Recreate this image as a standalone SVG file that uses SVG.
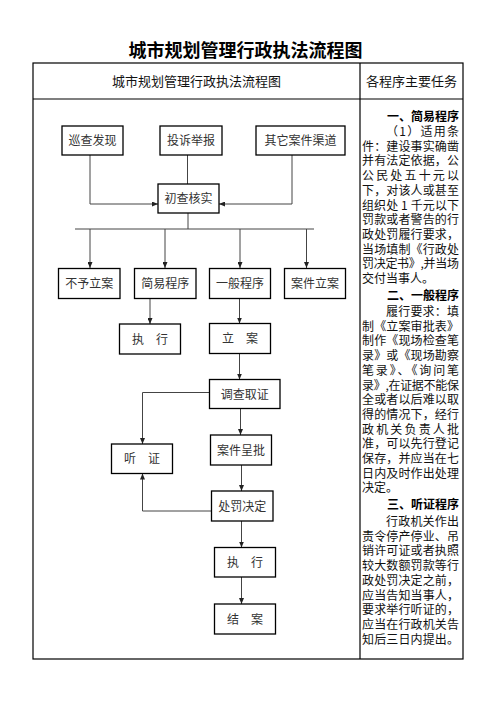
<svg xmlns="http://www.w3.org/2000/svg" width="496" height="702" viewBox="0 0 496 702">
<style>
.tbl{fill:none;stroke:#000;stroke-width:1.2}
.box{fill:#fff;stroke:#000;stroke-width:1.3}
.lbl{font-family:"Noto Sans CJK SC","Liberation Sans",sans-serif;font-size:12px;fill:#333;text-anchor:middle}
.hd{font-family:"Noto Sans CJK SC","Liberation Sans",sans-serif;font-size:13px;fill:#111;text-anchor:middle}
.ttl{font-family:"Noto Sans CJK SC","Liberation Sans",sans-serif;font-size:18px;font-weight:bold;fill:#000;text-anchor:middle}
.rt{font-family:"Noto Sans CJK SC","Liberation Sans",sans-serif;font-size:12px;fill:#111}
.rb{font-family:"Noto Sans CJK SC","Liberation Sans",sans-serif;font-size:12px;fill:#000;font-weight:bold}
.cn{fill:none;stroke:#444;stroke-width:1}
</style>
<defs>
<marker id="ah" markerWidth="6" markerHeight="5" refX="6" refY="2.5" orient="auto" markerUnits="userSpaceOnUse">
<path d="M0,0 L6,2.5 L0,5 z" fill="#222"/>
</marker>
</defs>
<rect width="496" height="702" fill="#fff"/>
<text class="ttl" x="245.5" y="56.5">城市规划管理行政执法流程图</text>
<g id="table">
<rect class="tbl" x="33" y="63" width="430" height="596"/>
<line class="tbl" x1="33" y1="99" x2="463" y2="99"/>
<line class="tbl" x1="360" y1="63" x2="360" y2="659"/>
<text class="hd" x="196.5" y="86">城市规划管理行政执法流程图</text>
<text class="hd" x="411.5" y="86">各程序主要任务</text>
</g>
<g id="connectors">
<path class="cn" d="M90,155 V204 H158" marker-end="url(#ah)"/>
<path class="cn" d="M187.5,155 V184"/>
<path class="cn" d="M292,155 V204 H219" marker-end="url(#ah)"/>
<path class="cn" d="M188,213 V229"/>
<path class="cn" d="M75,229 H314"/>
<path class="cn" d="M90,229 V268" marker-end="url(#ah)"/>
<path class="cn" d="M165,229 V268" marker-end="url(#ah)"/>
<path class="cn" d="M240,229 V268" marker-end="url(#ah)"/>
<path class="cn" d="M306.5,229 V268" marker-end="url(#ah)"/>
<path class="cn" d="M150,298 V324" marker-end="url(#ah)"/>
<path class="cn" d="M239.5,298 V323.5" marker-end="url(#ah)"/>
<path class="cn" d="M239.5,353.5 V379.5" marker-end="url(#ah)"/>
<path class="cn" d="M209,392.5 H142.5 V444" marker-end="url(#ah)"/>
<path class="cn" d="M240.5,408.5 V435" marker-end="url(#ah)"/>
<path class="cn" d="M241.5,465 V491" marker-end="url(#ah)"/>
<path class="cn" d="M211.5,511 H142.5 V473.5" marker-end="url(#ah)"/>
<path class="cn" d="M241.5,521 V547.5" marker-end="url(#ah)"/>
<path class="cn" d="M241.5,577 V604" marker-end="url(#ah)"/>
</g>
<g id="n-xuncha"><rect class="box" x="62" y="126" width="61" height="29"/><text class="lbl" x="92.5" y="145">巡查发现</text></g>
<g id="n-tousu"><rect class="box" x="160" y="126" width="62" height="29"/><text class="lbl" x="191" y="145">投诉举报</text></g>
<g id="n-qita"><rect class="box" x="256" y="126" width="89" height="29"/><text class="lbl" x="300.5" y="145">其它案件渠道</text></g>
<g id="n-chucha"><rect class="box" x="158" y="184" width="61" height="29"/><text class="lbl" x="188.5" y="203">初查核实</text></g>
<g id="n-buyu"><rect class="box" x="58.5" y="268.5" width="61.5" height="30"/><text class="lbl" x="89.3" y="288">不予立案</text></g>
<g id="n-jianyi"><rect class="box" x="134.5" y="268.5" width="61.5" height="30"/><text class="lbl" x="165.3" y="288">简易程序</text></g>
<g id="n-yiban"><rect class="box" x="209.5" y="268.5" width="61" height="30"/><text class="lbl" x="240" y="288">一般程序</text></g>
<g id="n-anjianlian"><rect class="box" x="284.5" y="268.5" width="61" height="30"/><text class="lbl" x="315" y="288">案件立案</text></g>
<g id="n-zhixing1"><rect class="box" x="119.5" y="324" width="61" height="30"/><text class="lbl" x="150" y="343.5">执　行</text></g>
<g id="n-lian"><rect class="box" x="209.5" y="323.5" width="61" height="30"/><text class="lbl" x="240" y="343">立　案</text></g>
<g id="n-diaocha"><rect class="box" x="209.5" y="379.5" width="70.5" height="29"/><text class="lbl" x="244.7" y="398.5">调查取证</text></g>
<g id="n-tingzheng"><rect class="box" x="111.5" y="444" width="61" height="29.5"/><text class="lbl" x="142" y="463">听　证</text></g>
<g id="n-chengpi"><rect class="box" x="210.5" y="435" width="61" height="30"/><text class="lbl" x="241" y="454.5">案件呈批</text></g>
<g id="n-chufa"><rect class="box" x="211.5" y="491" width="61.5" height="30"/><text class="lbl" x="242.3" y="510.5">处罚决定</text></g>
<g id="n-zhixing2"><rect class="box" x="214.5" y="547.5" width="61" height="29.5"/><text class="lbl" x="245" y="566.5">执　行</text></g>
<g id="n-jiean"><rect class="box" x="214.5" y="604" width="61" height="30"/><text class="lbl" x="245" y="623.5">结　案</text></g>
<g id="tasks">
<text class="rb" x="387" y="121">一、简易程序</text>
<text class="rt" x="386" y="136" textLength="73" lengthAdjust="spacing">（1）适用条</text>
<text class="rt" x="362" y="150.7" textLength="97" lengthAdjust="spacing">件：建设事实确凿</text>
<text class="rt" x="362" y="165.4" textLength="97" lengthAdjust="spacing">并有法定依据，公</text>
<text class="rt" x="362" y="180.1" textLength="97" lengthAdjust="spacing">公民处五十元以</text>
<text class="rt" x="362" y="194.8" textLength="97" lengthAdjust="spacing">下，对该人或甚至</text>
<text class="rt" x="362" y="209.5" textLength="97" lengthAdjust="spacing">组织处 1 千元以下</text>
<text class="rt" x="362" y="224.2" textLength="97" lengthAdjust="spacing">罚款或者警告的行</text>
<text class="rt" x="362" y="238.9" textLength="97" lengthAdjust="spacing">政处罚履行要求，</text>
<text class="rt" x="362" y="253.6" textLength="97" lengthAdjust="spacing">当场填制《行政处</text>
<text class="rt" x="362" y="268.3" textLength="97" lengthAdjust="spacing">罚决定书》,并当场</text>
<text class="rt" x="362" y="283">交付当事人。</text>
<text class="rb" x="387" y="300">二、一般程序</text>
<text class="rt" x="386" y="316" textLength="73" lengthAdjust="spacing">履行要求：填</text>
<text class="rt" x="362" y="330.7" textLength="97" lengthAdjust="spacing">制《立案审批表》</text>
<text class="rt" x="362" y="345.4" textLength="97" lengthAdjust="spacing">制作《现场检查笔</text>
<text class="rt" x="362" y="360.1" textLength="97" lengthAdjust="spacing">录》或《现场勘察</text>
<text class="rt" x="362" y="374.8" textLength="97" lengthAdjust="spacing">笔录》、《询问笔</text>
<text class="rt" x="362" y="389.5" textLength="97" lengthAdjust="spacing">录》,在证据不能保</text>
<text class="rt" x="362" y="404.2" textLength="97" lengthAdjust="spacing">全或者以后难以取</text>
<text class="rt" x="362" y="418.9" textLength="97" lengthAdjust="spacing">得的情况下，经行</text>
<text class="rt" x="362" y="433.6" textLength="97" lengthAdjust="spacing">政机关负责人批</text>
<text class="rt" x="362" y="448.3" textLength="97" lengthAdjust="spacing">准，可以先行登记</text>
<text class="rt" x="362" y="463" textLength="97" lengthAdjust="spacing">保存，并应当在七</text>
<text class="rt" x="362" y="477.7" textLength="97" lengthAdjust="spacing">日内及时作出处理</text>
<text class="rt" x="362" y="492.4">决定。</text>
<text class="rb" x="387" y="509.3">三、听证程序</text>
<text class="rt" x="386" y="526" textLength="73" lengthAdjust="spacing">行政机关作出</text>
<text class="rt" x="362" y="540.7" textLength="97" lengthAdjust="spacing">责令停产停业、吊</text>
<text class="rt" x="362" y="555.4" textLength="97" lengthAdjust="spacing">销许可证或者执照</text>
<text class="rt" x="362" y="570.1" textLength="97" lengthAdjust="spacing">较大数额罚款等行</text>
<text class="rt" x="362" y="584.8" textLength="97" lengthAdjust="spacing">政处罚决定之前，</text>
<text class="rt" x="362" y="599.5" textLength="97" lengthAdjust="spacing">应当告知当事人，</text>
<text class="rt" x="362" y="614.2" textLength="97" lengthAdjust="spacing">要求举行听证的，</text>
<text class="rt" x="362" y="628.9" textLength="97" lengthAdjust="spacing">应当在行政机关告</text>
<text class="rt" x="362" y="643.6" textLength="97" lengthAdjust="spacing">知后三日内提出。</text>
</g>
</svg>
